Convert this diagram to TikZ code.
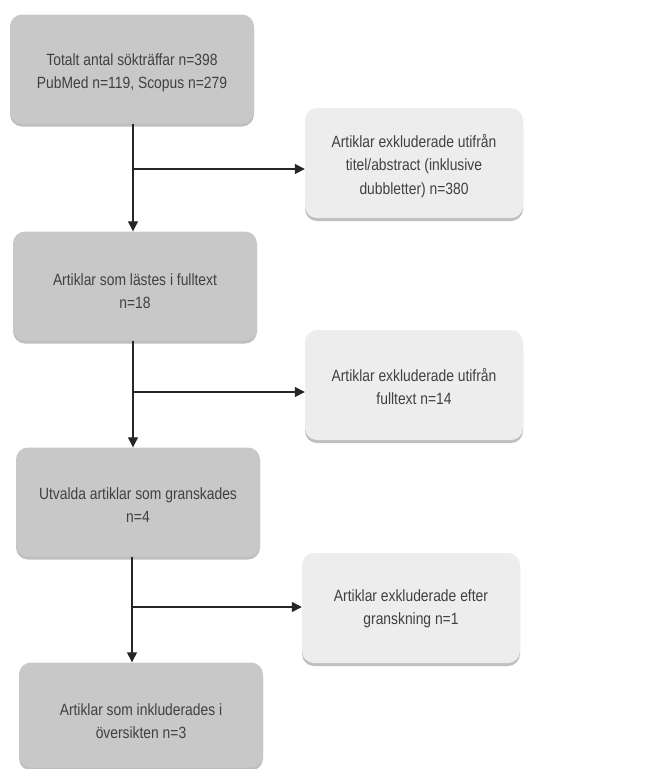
\documentclass[tikz,border=0pt]{standalone}
\usepackage{fontspec}
\setmainfont[FakeStretch=0.85]{Liberation Sans}
\usetikzlibrary{shadows,arrows.meta}
\definecolor{darkbox}{HTML}{C8C8C8}
\definecolor{lightbox}{HTML}{EDEDED}
\definecolor{txt}{HTML}{404040}
\tikzset{
  boxbase/.style={rounded corners=12pt, inner sep=0pt,
    drop shadow={shadow xshift=0pt, shadow yshift=-3pt, fill=black, opacity=0.25}},
  mainbox/.style={boxbase, fill=darkbox, minimum width=244pt, minimum height=109pt},
  sidebox/.style={boxbase, fill=lightbox, minimum width=218pt, minimum height=110pt},
  boxtext/.style={align=center, text=txt, inner sep=0pt,
    font=\fontsize{16.3}{23.5}\selectfont},
  conn/.style={draw=black!85, line width=1.3pt},
  arr/.style={conn, -{Triangle[length=10pt,width=10pt]}}
}
\begin{document}
\begin{tikzpicture}[x=1pt,y=-1pt]
\useasboundingbox (0,0) rectangle (648,769);
\node[mainbox] (a) at (132,69) {};
\node[boxtext] (at) at ([yshift=-4pt]a.center) {Totalt antal sökträffar n=398\\PubMed n=119, Scopus n=279};
\node[sidebox] (ea) at (414,163) {};
\node[boxtext] (eat) at ([yshift=-3pt]ea.center) {Artiklar exkluderade utifrån\\titel/abstract (inklusive\\dubbletter) n=380};
\node[mainbox] (b) at (135,286) {};
\node[boxtext] (bt) at ([yshift=-5pt]b.center) {Artiklar som lästes i fulltext\\n=18};
\node[sidebox] (eb) at (414,385) {};
\node[boxtext] (ebt) at ([yshift=-1.5pt]eb.center) {Artiklar exkluderade utifrån\\fulltext n=14};
\node[mainbox] (c) at (138,502) {};
\node[boxtext] (ct) at ([yshift=-3pt]c.center) {Utvalda artiklar som granskades\\n=4};
\node[sidebox] (ec) at (411,608) {};
\node[boxtext] (ect) at ([yshift=-1pt]ec.center) {Artiklar exkluderade efter\\granskning n=1};
\node[mainbox, minimum height=105pt] (d) at (141,715) {};
\node[boxtext] (dt) at ([yshift=-6pt]d.center) {Artiklar som inkluderades i\\översikten n=3};
\coordinate (ja) at (133,169);
\coordinate (jb) at (133,392);
\coordinate (jc) at (132,607);
\draw[arr] (a.south -| ja) -- (b.north -| ja);
\draw[arr] (ja) -- (ea.west |- ja);
\draw[arr] (b.south -| jb) -- (c.north -| jb);
\draw[arr] (jb) -- (eb.west |- jb);
\draw[arr] (c.south -| jc) -- (d.north -| jc);
\draw[arr] (jc) -- (ec.west |- jc);
\end{tikzpicture}
\end{document}
